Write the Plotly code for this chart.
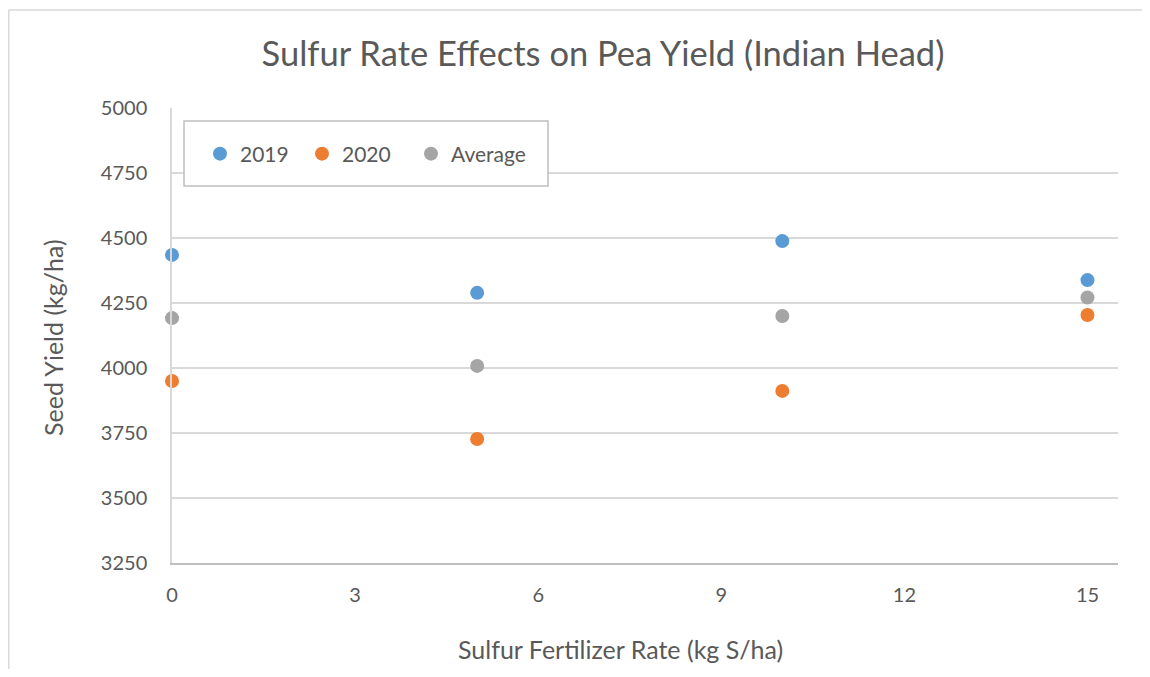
import plotly.graph_objects as go

sulfur_rate = [0, 5, 10, 15]
yield_2019 = [4435, 4289, 4488, 4338]
yield_2020 = [3950, 3727, 3912, 4204]
yield_avg = [4192, 4008, 4200, 4271]

series_names = ["2019", "2020", "Average"]
series_colors = ["#5B9BD5", "#ED7D31", "#A5A5A5"]

x_ticks = [0, 3, 6, 9, 12, 15]
y_ticks = [3250, 3500, 3750, 4000, 4250, 4500, 4750, 5000]

FONT = "Lato"
TXT = "#595959"

# page body has an 8px margin; lay the figure out in reference-pixel coords minus it
OFF = 8
W, H = 1150 - 2 * OFF, 677 - 2 * OFF
L, R, T, B = 172 - OFF, W - (1118 - OFF), 108 - OFF, H - (563 - OFF)
pw, ph = W - L - R, H - T - B


def px(x):  # reference x pixel -> paper
    return (x - OFF - L) / pw


def py(y):  # reference y pixel -> paper
    return 1 - (y - OFF - T) / ph


legend_ids = ["legend", "legend2", "legend3"]
legend_left = [200, 302, 411]

fig = go.Figure()
for name, vals, col, lid in zip(series_names, [yield_2019, yield_2020, yield_avg], series_colors, legend_ids):
    fig.add_trace(go.Scatter(
        x=sulfur_rate, y=vals, mode="markers", name=name, legend=lid,
        marker=dict(color=col, size=14, line=dict(width=0)),
        cliponaxis=False,
    ))

legend_style = dict(orientation="h", xanchor="left", yanchor="middle",
                    borderwidth=0, bgcolor="rgba(0,0,0,0)",
                    font=dict(size=21, color=TXT, family=FONT),
                    itemsizing="trace", tracegroupgap=0)

fig.update_layout(
    width=W, height=H,
    margin=dict(l=L, r=R, t=T, b=B, pad=0),
    paper_bgcolor="white", plot_bgcolor="white",
    font=dict(family=FONT, color=TXT, size=16),
    title=dict(text="Sulfur Rate Effects on Pea Yield (Indian Head)",
               x=(603 - OFF) / W, xanchor="center", xref="container",
               y=1 - (54 - OFF) / H, yanchor="middle", yref="container",
               font=dict(size=34.5, color=TXT, family=FONT)),
    showlegend=True,
    xaxis=dict(range=[0, 15.5], tickvals=x_ticks, showgrid=False, zeroline=False,
               showline=True, linecolor="#BFBFBF", linewidth=1.5,
               ticks="", tickfont=dict(size=20), ticklabelstandoff=13),
    yaxis=dict(range=[3250, 5000], tickvals=y_ticks, showgrid=True, gridcolor="#D9D9D9",
               gridwidth=1.5, zeroline=False, showline=True, linecolor="#D9D9D9", linewidth=1.5,
               ticks="", tickfont=dict(size=20), ticklabelstandoff=19),
    annotations=[
        dict(text="Sulfur Fertilizer Rate (kg S/ha)", xref="paper", yref="paper",
             x=px(620), y=py(649), xanchor="center", yanchor="middle",
             showarrow=False, font=dict(size=25, color=TXT, family=FONT)),
        dict(text="Seed Yield (kg/ha)", xref="paper", yref="paper",
             x=px(53), y=py(337), xanchor="center", yanchor="middle", textangle=-90,
             showarrow=False, font=dict(size=25, color=TXT, family=FONT)),
    ],
    shapes=[
        # chart-area border (left and top edges visible)
        dict(type="line", xref="paper", yref="paper",
             x0=px(8.75), x1=px(8.75), y0=py(700), y1=py(10),
             line=dict(color="#D9D9D9", width=1.5)),
        dict(type="line", xref="paper", yref="paper",
             x0=px(8.75), x1=px(1170), y0=py(10), y1=py(10),
             line=dict(color="#D9D9D9", width=1.5)),
        # legend box
        dict(type="rect", xref="paper", yref="paper",
             x0=px(184), x1=px(548), y0=py(186), y1=py(121),
             line=dict(color="#BFBFBF", width=1.5), fillcolor="white", layer="above"),
    ],
)

for lid, lx in zip(legend_ids, legend_left):
    fig.update_layout({lid: dict(legend_style, x=px(lx), y=py(154))})

fig.write_html("out.html")
